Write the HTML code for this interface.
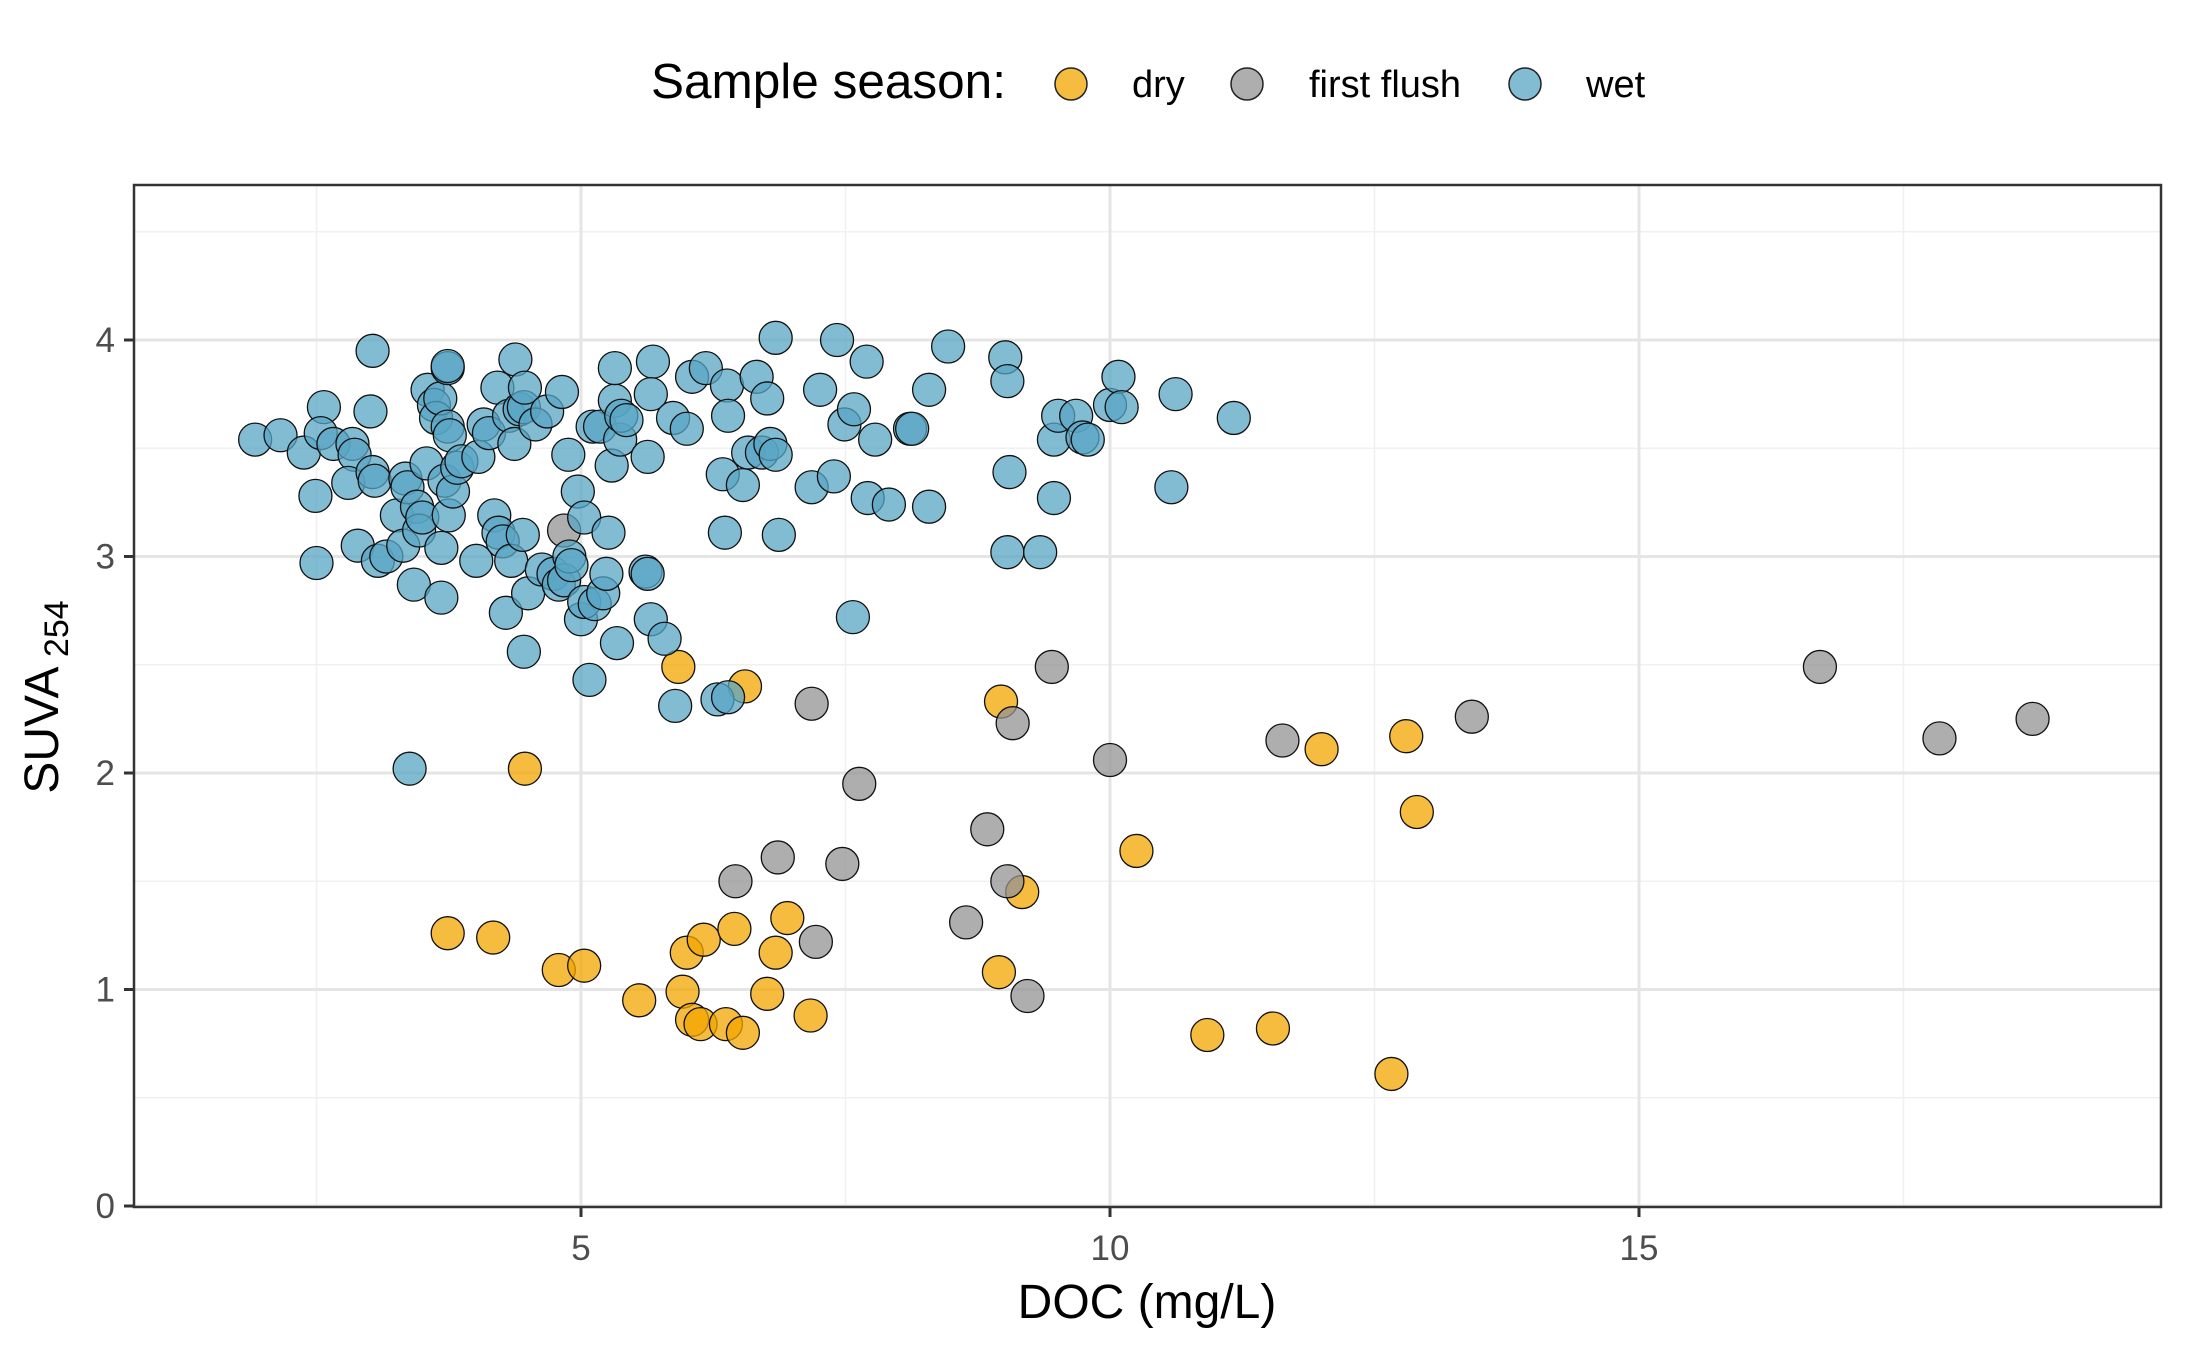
<!DOCTYPE html>
<html><head><meta charset="utf-8"><style>
html,body{margin:0;padding:0;background:#fff;}
svg{display:block;font-family:"Liberation Sans",Arial,sans-serif;}
</style></head><body>
<svg id="chart" width="2187" height="1350" viewBox="0 0 2187 1350">
  <g id="grid"></g>
  <g id="points"></g>
  <rect x="134" y="185" width="2027" height="1022" fill="none" stroke="#333" stroke-width="2.5"/>
  <g id="axes"></g>
  <text x="1147" y="1318" font-size="48" text-anchor="middle" fill="#000">DOC (mg/L)</text>
  <text transform="translate(58,697) rotate(-90)" font-size="48" text-anchor="middle" fill="#000">SUVA<tspan font-size="34" dy="10"> 254</tspan></text>
  <g>
    <text x="651" y="98" font-size="49.5" fill="#000">Sample season:</text>
    <g>
      <circle cx="1071" cy="84" r="16" fill="#F2A600" fill-opacity="0.75" stroke="#222" stroke-width="1.5"/>
      <text x="1132" y="97" font-size="38" fill="#000">dry</text>
    </g>
    <g>
      <circle cx="1247" cy="84" r="16" fill="#939393" fill-opacity="0.75" stroke="#222" stroke-width="1.5"/>
      <text x="1309" y="97" font-size="38" fill="#000">first flush</text>
    </g>
    <g>
      <circle cx="1525" cy="84" r="16" fill="#58A6C4" fill-opacity="0.75" stroke="#222" stroke-width="1.5"/>
      <text x="1586" y="97" font-size="38" fill="#000">wet</text>
    </g>
  </g>
</svg>
<script>
const xTicks = [5, 10, 15];
const xTickLabels = ["5", "10", "15"];
const xMinor = [2.5, 7.5, 12.5, 17.5];
const yTicks = [0, 1, 2, 3, 4];
const yTickLabels = ["0", "1", "2", "3", "4"];
const yMinor = [0.5, 1.5, 2.5, 3.5, 4.5];

const dryDOC = [5.92,6.55,4.47,8.97,12.0,12.8,12.9,10.25,9.17,3.74,4.17,4.79,5.03,5.55,5.96,6.0,6.16,6.45,6.95,6.84,6.05,6.13,6.37,6.53,6.76,7.17,8.95,10.92,11.54,12.66];
const drySUVA = [2.49,2.40,2.02,2.33,2.11,2.17,1.82,1.64,1.45,1.26,1.24,1.09,1.11,0.95,0.99,1.17,1.23,1.28,1.33,1.17,0.86,0.84,0.84,0.80,0.98,0.88,1.08,0.79,0.82,0.61];

const ffDOC = [4.84,9.45,7.18,9.08,7.63,10.0,11.63,13.42,16.71,17.84,18.72,8.84,6.86,7.47,6.46,9.03,8.64,7.22,9.22];
const ffSUVA = [3.12,2.49,2.32,2.23,1.95,2.06,2.15,2.26,2.49,2.16,2.25,1.74,1.61,1.58,1.50,1.50,1.31,1.22,0.97];

const wetDOC = [1.92,2.16,2.38,2.57,2.54,2.66,2.84,2.86,2.49,2.50,2.80,2.89,3.03,3.01,3.03,3.05,3.08,3.16,3.26,3.32,3.34,3.36,3.38,3.42,3.45,3.47,3.50,3.54,3.55,3.61,3.63,3.67,3.68,3.71,3.74,3.74,3.74,3.75,3.76,3.79,3.83,3.68,3.87,4.01,4.03,4.08,4.13,4.18,4.21,4.22,4.26,4.29,4.32,4.34,4.37,4.38,4.42,4.46,4.45,4.47,4.46,4.50,4.57,4.63,4.68,4.74,4.79,4.82,4.84,4.88,4.89,4.91,4.97,5.00,5.03,5.03,5.11,5.13,5.18,5.21,5.24,5.26,5.29,5.32,5.32,5.34,5.37,5.38,5.43,5.08,5.61,5.63,5.63,5.66,5.68,5.66,5.79,5.87,5.89,6.00,6.05,6.18,6.29,6.34,6.36,6.38,6.39,6.39,6.53,6.58,6.66,6.71,6.76,6.79,6.84,6.84,6.87,7.18,7.26,7.39,7.42,7.49,7.58,7.57,7.70,7.71,7.78,7.91,8.11,8.13,8.29,8.29,8.47,9.01,9.03,9.05,9.03,9.34,9.47,9.47,9.51,9.68,9.74,9.79,10.00,10.08,10.11,10.58,10.62,11.17];
const wetSUVA = [3.54,3.56,3.48,3.69,3.57,3.52,3.52,3.47,3.28,2.97,3.34,3.05,3.95,3.67,3.39,3.35,2.98,3.00,3.19,3.05,3.36,3.32,2.02,2.87,3.23,3.12,3.18,3.43,3.77,3.70,3.64,3.73,3.04,3.35,3.87,3.88,3.60,3.19,3.56,3.30,3.41,2.81,3.44,2.98,3.46,3.61,3.57,3.19,3.78,3.11,3.07,2.74,3.65,2.98,3.52,3.91,3.68,3.69,3.10,3.78,2.56,2.83,3.61,2.94,3.67,2.92,2.87,3.76,2.89,3.47,3.00,2.96,3.30,2.71,2.79,3.18,3.60,2.78,3.60,2.83,2.92,3.11,3.42,3.72,3.87,2.60,3.54,3.65,3.63,2.43,2.93,2.92,3.46,2.71,3.90,3.75,2.62,3.64,2.31,3.59,3.83,3.87,2.34,3.38,3.11,3.79,3.65,2.35,3.33,3.48,3.83,3.48,3.73,3.52,3.47,4.01,3.10,3.32,3.77,3.37,4.00,3.61,3.68,2.72,3.90,3.27,3.54,3.24,3.59,3.59,3.23,3.77,3.97,3.92,3.81,3.39,3.02,3.02,3.27,3.54,3.65,3.65,3.55,3.54,3.70,3.83,3.69,3.32,3.75,3.64];

const NS = "http://www.w3.org/2000/svg";
const PL = 134, PR = 2161, PT = 185, PB = 1207;
function xScale(v){ return 52 + v * 105.8; }
function yScale(v){ return 1206 - v * 216.5; }

const grid = document.getElementById('grid');
const axes = document.getElementById('axes');
const pts = document.getElementById('points');
function line(parent, x1, y1, x2, y2, stroke, w){
  const l = document.createElementNS(NS, 'line');
  l.setAttribute('x1', x1); l.setAttribute('y1', y1);
  l.setAttribute('x2', x2); l.setAttribute('y2', y2);
  l.setAttribute('stroke', stroke); l.setAttribute('stroke-width', w);
  parent.appendChild(l);
  return l;
}
xMinor.forEach(v => {
  const l = line(grid, xScale(v), PT, xScale(v), PB, '#F0F0F0', 1.5);
  
  
});
yMinor.forEach(v => {
  const l = line(grid, PL, yScale(v), PR, yScale(v), '#F0F0F0', 1.5);
  
  
});
xTicks.forEach((v, i) => {
  const g = line(grid, xScale(v), PT, xScale(v), PB, '#E5E5E5', 3);
  
  
  const t = line(axes, xScale(v), PB, xScale(v), PB + 10, '#333', 3);
  
  
  const tx = document.createElementNS(NS, 'text');
  tx.setAttribute('x', xScale(v)); tx.setAttribute('y', 1260);
  tx.setAttribute('font-size', '35'); tx.setAttribute('fill', '#4D4D4D');
  tx.setAttribute('text-anchor', 'middle');
  tx.textContent = xTickLabels[i];
  
  
  axes.appendChild(tx);
});
yTicks.forEach((v, i) => {
  const g = line(grid, PL, yScale(v), PR, yScale(v), '#E5E5E5', 3);
  
  
  const t = line(axes, PL - 10, yScale(v), PL, yScale(v), '#333', 3);
  
  
  const tx = document.createElementNS(NS, 'text');
  tx.setAttribute('x', 115); tx.setAttribute('y', yScale(v) + 12);
  tx.setAttribute('font-size', '35'); tx.setAttribute('fill', '#4D4D4D');
  tx.setAttribute('text-anchor', 'end');
  tx.textContent = yTickLabels[i];
  
  
  axes.appendChild(tx);
});
function drawSeries(xs, ys, fill, name){
  xs.forEach((x, i) => {
    const c = document.createElementNS(NS, 'circle');
    c.setAttribute('cx', xScale(x)); c.setAttribute('cy', yScale(ys[i]));
    c.setAttribute('r', 16.5);
    c.setAttribute('fill', fill); c.setAttribute('fill-opacity', '0.75');
    c.setAttribute('stroke', '#111'); c.setAttribute('stroke-width', '1.3');
    
    
    pts.appendChild(c);
  });
}
drawSeries(dryDOC, drySUVA, '#F2A600', 'point-dry');
drawSeries(ffDOC, ffSUVA, '#939393', 'point-first-flush');
drawSeries(wetDOC, wetSUVA, '#58A6C4', 'point-wet');
</script>
</body></html>
